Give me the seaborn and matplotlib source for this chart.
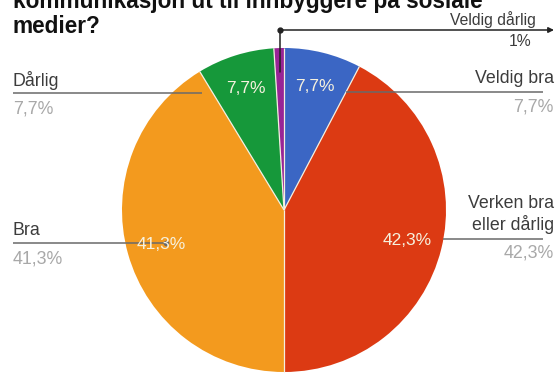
import numpy as np
import matplotlib
matplotlib.use("Agg")
import matplotlib.pyplot as plt
import seaborn as sns

# Survey answers, clockwise from 12 o'clock
categories = ["Veldig bra", "Verken bra eller dårlig", "Bra", "Dårlig", "Veldig dårlig"]
values = [7.7, 42.3, 41.3, 7.7, 1.0]
label_lines = [["Veldig bra"], ["Verken bra", "eller dårlig"], ["Bra"], ["Dårlig"], ["Veldig dårlig"]]
title_lines = ["kommunikasjon ut til innbyggere på sosiale", "medier?"]

sns.set_theme(style="white")
plt.rcParams["font.family"] = ["Liberation Sans", "DejaVu Sans"]
colors = sns.color_palette(["#3b66c4", "#dc3a13", "#f39a1e", "#16983a", "#982596"])

W, H = 560, 373
fig = plt.figure(figsize=(W / 100, H / 100), dpi=100)
ax = fig.add_axes([0, 0, 1, 1])


def Y(y):
    # top-down pixel row -> data y
    return H - y


def fmt(v):
    s = f"{v:.1f}" if v != int(v) else f"{int(v)}"
    return s.replace(".", ",") + "%"


cx, cy, R = 284, Y(210), 162
wedges, _ = ax.pie(values, colors=colors, startangle=90, counterclock=False,
                   center=(cx, cy), radius=R,
                   wedgeprops=dict(edgecolor="none", linewidth=0))
# thin light separators between slices
for w in wedges:
    a = np.deg2rad(w.theta1)
    ax.plot([cx, cx + R * np.cos(a)], [cy, cy + R * np.sin(a)],
            color="#f4efe0", lw=0.9, solid_capstyle="butt")
ax.set_xlim(0, W)
ax.set_ylim(0, H)
ax.set_aspect("equal")
ax.axis("off")

# percentages inside the larger slices
for w, v in zip(wedges, values):
    if v < 5:
        continue
    mid = np.deg2rad((w.theta1 + w.theta2) / 2)
    ax.text(cx + 0.785 * R * np.cos(mid), cy + 0.785 * R * np.sin(mid), fmt(v),
            ha="center", va="center", fontsize=12.5, color="#f6f1de")

# outside labels: side, leader-line row, leader end x, name baselines, value baseline
layout = [
    ("right", 92, 346, [83], 112),
    ("right", 239, 443, [208, 230], 258),
    ("left", 243, 166, [235], 263),
    ("left", 93, 202, [86], 113),
]
line_col = "#6a6a6a"
for (side, ly, lx, name_ys, val_y), names, v in zip(layout, label_lines, values):
    tx = 554 if side == "right" else 13
    ha = "right" if side == "right" else "left"
    for t, by in zip(names, name_ys):
        ax.text(tx, Y(by), t, ha=ha, va="baseline", fontsize=12.8, color="#3c3c3c")
    ax.text(tx, Y(val_y), fmt(v), ha=ha, va="baseline", fontsize=12.8, color="#a8a8a8")
    x0 = 543 if side == "right" else 13
    ax.plot([x0, lx], [Y(ly), Y(ly)], color=line_col, lw=1.1, solid_capstyle="butt")
    if side == "left" and lx < 180:
        ax.plot([lx], [Y(ly)], "o", ms=3, color=line_col)

# smallest slice: elbow pointer with arrow
w = wedges[4]
mid = np.deg2rad((w.theta1 + w.theta2) / 2)
px = cx + 0.85 * R * np.cos(mid)
py = cy + 0.85 * R * np.sin(mid)
ax.plot([px, px], [py, Y(30)], color="#222222", lw=1.1)
ax.plot([px], [Y(30)], "o", ms=3.5, color="#222222")
ax.annotate("", xy=(554, Y(30)), xytext=(px, Y(30)),
            arrowprops=dict(arrowstyle="-|>", color="#222222", lw=1.1,
                            mutation_scale=8, shrinkA=0, shrinkB=0))
ax.text(536, Y(25), label_lines[4][0], ha="right", va="baseline", fontsize=11.3, color="#3c3c3c")
ax.text(531, Y(46), fmt(values[4]), ha="right", va="baseline", fontsize=11.3, color="#3c3c3c")

# title (first line runs off the top edge)
ax.text(13, Y(8), title_lines[0], ha="left", va="baseline", fontsize=16.3,
        fontweight="bold", color="#111111")
ax.text(13, Y(33), title_lines[1], ha="left", va="baseline", fontsize=16.3,
        fontweight="bold", color="#111111")

fig.savefig("out.png", dpi=100, facecolor="white")
